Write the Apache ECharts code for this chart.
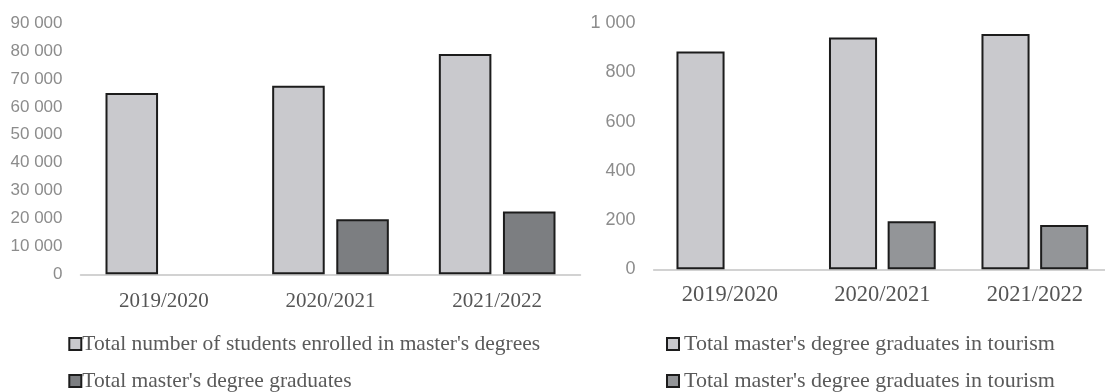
<!DOCTYPE html>
<html>
<head>
<meta charset="utf-8">
<script src="https://cdn.jsdelivr.net/npm/echarts@6/dist/echarts.min.js"></script>
<style>
html,body{margin:0;padding:0;background:#fff;}
#c{width:1105px;height:392px;}
</style>
</head>
<body>
<div id="c"></div>
<script>
const categories = ['2019/2020', '2020/2021', '2021/2022'];
const enrolled = [65000, 67600, 79000];
const graduates = [null, 19700, 22500];
const tourismA = [885, 942, 956];
const tourismB = [null, 195, 180];
const leftTicks = {min: 0, max: 90000, interval: 10000};
const rightTicks = {min: 0, max: 1000, interval: 200};
const nameEnrolled = "Total number of students enrolled in master's degrees";
const nameGrad = "Total master's degree graduates";
const nameTourA = "Total master's degree graduates in tourism";
const nameTourB = "Total master's degree graduates in tourism ";

const fmt = v => String(v).replace(/\B(?=(\d{3})+(?!\d))/g, ' ');
const serif = '"Liberation Serif", "Times New Roman", serif';
const sans = '"Liberation Sans", Arial, sans-serif';
const light = '#c9c9cd', darkL = '#7c7e81', darkR = '#939598', border = '#1c1c1c';

const chart = echarts.init(document.getElementById('c'));
const xAxis = (gi, size, margin) => ({
  gridIndex: gi, type: 'category', data: categories,
  axisLine: {lineStyle: {color: '#c4c4c4', width: 1.5}},
  axisTick: {show: false},
  axisLabel: {fontFamily: serif, fontSize: size, color: '#555', margin: margin}
});
const yAxis = (gi, size, ticks) => Object.assign({
  gridIndex: gi, type: 'value', splitLine: {show: false}, axisLine: {show: false}, axisTick: {show: false},
  axisLabel: {fontFamily: sans, fontSize: size, color: '#8c8c8c', margin: 18, formatter: fmt}
}, ticks);
const legend = (names, left, size, pad) => ({
  data: names, orient: 'vertical', left: left, top: 333, padding: 0, height: 80,
  itemWidth: 12, itemHeight: 12, itemGap: 15, icon: 'rect',
  formatter: n => n.trim(),
  textStyle: {fontFamily: serif, fontSize: size, color: '#5a5a5a', lineHeight: 22, padding: [0, 0, 0, pad]}
});
const barBase = {type: 'bar', barCategoryGap: '30%', barGap: '22%'};
const sty = c => ({color: c, borderColor: border, borderWidth: 2});

chart.setOption({
  animation: false,
  grid: [
    {left: 80.5, top: 23.2, width: 500, height: 251.1, outerBoundsMode: 'none'},
    {left: 653.6, top: 23.3, width: 457.5, height: 246, outerBoundsMode: 'none'}
  ],
  xAxis: [xAxis(0, 21, 17), xAxis(1, 22.5, 14.5)],
  yAxis: [yAxis(0, 17, leftTicks), yAxis(1, 18, rightTicks)],
  legend: [
    legend([nameEnrolled, nameGrad], 68.3, 21.5, -4),
    legend([nameTourA, nameTourB], 666, 22, 0)
  ],
  series: [
    Object.assign({name: nameEnrolled, xAxisIndex: 0, yAxisIndex: 0, data: enrolled, itemStyle: sty(light)}, barBase),
    Object.assign({name: nameGrad, xAxisIndex: 0, yAxisIndex: 0, data: graduates, itemStyle: sty(darkL)}, barBase),
    Object.assign({name: nameTourA, xAxisIndex: 1, yAxisIndex: 1, data: tourismA, itemStyle: sty(light)}, barBase),
    Object.assign({name: nameTourB, xAxisIndex: 1, yAxisIndex: 1, data: tourismB, itemStyle: sty(darkR)}, barBase)
  ]
});
</script>
</body>
</html>
